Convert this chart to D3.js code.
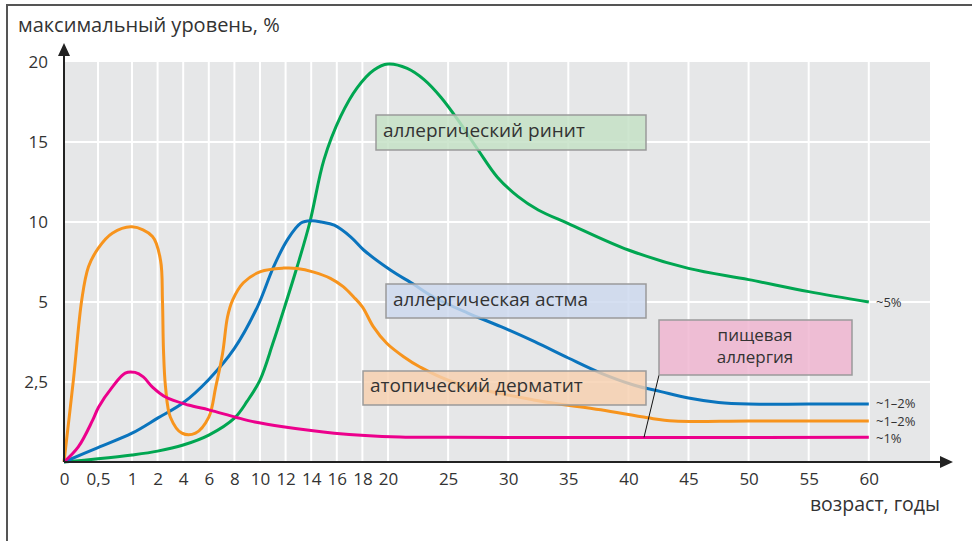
<!DOCTYPE html>
<html>
<head>
<meta charset="utf-8">
<script src="https://cdn.jsdelivr.net/npm/d3@7"></script>
<style>
    body { margin: 0; background: #fff; }
    svg text { font-family: "Open Sans", sans-serif; fill: #333; }
</style>
</head>
<body>
<svg id="chart" width="972" height="541"></svg>
<script>
// возраст (годы) -> максимальный уровень (%)
const xTicks = [0, 0.5, 1, 2, 4, 6, 8, 10, 12, 14, 16, 18, 20, 25, 30, 35, 40, 45, 50, 55, 60];
const yTicks = [2.5, 5, 10, 15, 20];

const rhinitis = [
    [0, 0], [0.5, 0.1], [1, 0.22], [2, 0.34], [4, 0.53], [6, 0.84], [8, 1.37], [9, 1.9],
    [10, 2.56], [11, 3.7], [11.85, 4.75], [12.9, 7.2], [13.9, 10], [15, 13.9], [16.3, 16.6],
    [17.6, 18.4], [18.9, 19.5], [20, 19.87], [21.6, 19.6], [23, 18.9], [24.4, 17.8],
    [25.8, 16.4], [27.5, 14.5], [29.1, 12.8], [30.8, 11.6], [32.5, 10.75], [35, 9.9],
    [40, 8.25], [45, 7.1], [50, 6.4], [55, 5.65], [60, 5.0]
];
const asthma = [
    [0, 0], [0.5, 0.45], [1, 0.9], [2, 1.37], [4, 1.85], [6, 2.58], [8, 3.55], [9.8, 4.85],
    [11.06, 7.2], [12.15, 8.9], [13.2, 9.94], [14, 10.08], [14.8, 10.0], [15.8, 9.8],
    [17.1, 9.06], [18.1, 8.25], [20.2, 7.0], [22.1, 6.12], [23.8, 5.3], [26.6, 4.66],
    [29.4, 4.23], [32.2, 3.76], [35, 3.25], [37.7, 2.78], [40.5, 2.4], [42.7, 2.2],
    [45, 2.0], [47.5, 1.86], [50, 1.81], [55, 1.81], [60, 1.81]
];
const dermatitis = [
    [0, 0], [0.14, 2.6], [0.26, 5.1], [0.36, 7.2], [0.51, 8.4], [0.71, 9.3], [1, 9.7],
    [1.8, 9.1], [2.23, 7.6], [2.38, 5.1], [2.46, 3.5], [2.62, 2.34], [3.0, 1.4], [3.9, 0.9],
    [4.96, 0.9], [6, 1.4], [6.54, 2.34], [7.08, 3.4], [7.46, 4.53], [7.85, 5.1], [8.7, 6.2],
    [10.04, 6.9], [11.84, 7.12], [12.9, 7.1], [14.2, 6.87], [15.5, 6.48], [16.5, 5.96],
    [17.3, 5.33], [18, 4.85], [18.85, 4.23], [19.9, 3.71], [21.3, 3.29], [22.7, 2.96],
    [25.4, 2.5], [32.1, 1.94], [37.7, 1.63], [41.6, 1.38], [43.8, 1.28], [50, 1.28], [60, 1.28]
];
const foodAllergy = [
    [0, 0], [0.21, 0.47], [0.42, 1.3], [0.51, 1.72], [0.71, 2.34], [0.9, 2.78], [1.12, 2.8],
    [1.44, 2.66], [1.8, 2.34], [2.62, 2.03], [4.4, 1.78], [6, 1.63], [8.1, 1.4], [9.6, 1.25],
    [11.8, 1.1], [15.8, 0.9], [21, 0.78], [25, 0.77], [60, 0.77]
];

const seriesNames = ['аллергический ринит', 'аллергическая астма', 'атопический дерматит', ['пищевая', 'аллергия']];
const endLabels = ['~5%', '~1–2%', '~1–2%', '~1%'];
const yTitle = 'максимальный уровень, %';
const xTitle = 'возраст, годы';

const svg = d3.select('#chart');
const plot = { left: 64, top: 62, bottom: 462, right: 930 };

// x-шкала неравномерная: до 1 года шире, 2–20 по 2 года, дальше по 5 лет
const xRange = [plot.left];
for (let i = 1; i < xTicks.length; i++) {
    const t = xTicks[i];
    const w = t <= 1 ? 34 : t <= 20 ? 25.6 : 60.1;
    xRange.push(xRange[i - 1] + w);
}
const x = d3.scaleLinear().domain(xTicks).range(xRange);
const y = d3.scaleLinear().domain([0, 5, 20]).range([plot.bottom, 302, plot.top]);
const fmt = d => String(d).replace('.', ',');

// рамка
svg.append('path')
    .attr('d', 'M7,541 V5 H972')
    .attr('fill', 'none')
    .attr('stroke', '#555')
    .attr('stroke-width', 2);

svg.append('rect')
    .attr('x', plot.left)
    .attr('y', plot.top)
    .attr('width', plot.right - plot.left)
    .attr('height', plot.bottom - plot.top)
    .attr('fill', '#e6e7e8');

svg.append('g')
    .selectAll('line')
    .data(xTicks.slice(1))
    .enter()
    .append('line')
    .attr('x1', d => x(d)).attr('x2', d => x(d))
    .attr('y1', plot.top).attr('y2', plot.bottom)
    .attr('stroke', '#fff').attr('stroke-width', 2);

svg.append('g')
    .selectAll('line')
    .data(yTicks.slice(0, -1))
    .enter()
    .append('line')
    .attr('x1', plot.left).attr('x2', plot.right)
    .attr('y1', d => y(d)).attr('y2', d => y(d))
    .attr('stroke', '#fff').attr('stroke-width', 2);

const line = d3.line()
    .x(d => x(d[0]))
    .y(d => y(d[1]))
    .curve(d3.curveCatmullRom.alpha(0.5));

const series = [
    { data: rhinitis, color: '#00a651', nudge: 0 },
    { data: asthma, color: '#0a74bd', nudge: -1 },
    { data: dermatitis, color: '#f7941d', nudge: 0 },
    { data: foodAllergy, color: '#ec008c', nudge: 1 }
];

svg.append('g')
    .selectAll('path')
    .data(series)
    .enter()
    .append('path')
    .attr('d', d => line(d.data))
    .attr('fill', 'none')
    .attr('stroke', d => d.color)
    .attr('stroke-width', 3);

svg.append('g')
    .selectAll('text')
    .data(series)
    .enter()
    .append('text')
    .attr('x', 876)
    .attr('y', d => y(d.data[d.data.length - 1][1]) + d.nudge)
    .attr('dy', '0.35em')
    .attr('font-size', 13)
    .text((d, i) => endLabels[i]);

// оси
svg.append('g')
    .attr('transform', 'translate(0,' + plot.bottom + ')')
    .call(d3.axisBottom(x).tickValues(xTicks).tickSize(0).tickPadding(11).tickFormat(fmt))
    .call(g => g.select('.domain').remove())
    .selectAll('text')
    .attr('font-size', 17)
    .attr('font-family', null);

svg.append('g')
    .attr('transform', 'translate(' + plot.left + ',0)')
    .call(d3.axisLeft(y).tickValues(yTicks).tickSize(0).tickPadding(16).tickFormat(fmt))
    .call(g => g.select('.domain').remove())
    .selectAll('text')
    .attr('font-size', 17)
    .attr('font-family', null);

svg.append('path')
    .attr('d', `M${plot.left},${plot.bottom} V54 M${plot.left},${plot.bottom} H942`)
    .attr('stroke', '#222').attr('stroke-width', 2).attr('fill', 'none');
svg.append('path')
    .attr('d', `M${plot.left},43 L${plot.left - 6},56 L${plot.left + 6},56 Z M953,${plot.bottom} L940,${plot.bottom - 6} L940,${plot.bottom + 6} Z`)
    .attr('fill', '#222');

svg.append('text').attr('x', 18).attr('y', 32).attr('font-size', 20).text(yTitle);
svg.append('text').attr('x', 940).attr('y', 511).attr('font-size', 19.5)
    .attr('text-anchor', 'end').text(xTitle);

// подписи в рамках
const boxes = [
    { x: 376, y: 115, w: 270, h: 35, fill: '#c3e1c5', tx: 383, ty: 137 },
    { x: 386, y: 284, w: 260, h: 34, fill: '#ccd8ee', tx: 393, ty: 306 },
    { x: 363, y: 371, w: 283, h: 34, fill: '#f6cfae', tx: 370, ty: 392 },
    { x: 659, y: 320, w: 193, h: 55, fill: '#efb3cf', tx: 755, ty: 341 }
];

svg.append('line')
    .attr('x1', 659).attr('y1', 375)
    .attr('x2', 644).attr('y2', y(foodAllergy[foodAllergy.length - 1][1]))
    .attr('stroke', '#111').attr('stroke-width', 1);

const lab = svg.append('g')
    .selectAll('g')
    .data(boxes)
    .enter()
    .append('g');

lab.append('rect')
    .attr('x', d => d.x).attr('y', d => d.y)
    .attr('width', d => d.w).attr('height', d => d.h)
    .attr('fill', d => d.fill)
    .attr('fill-opacity', 0.82)
    .attr('stroke', '#9a9a9a')
    .attr('stroke-width', 1.5);

lab.each(function (d, i) {
    const lines = [].concat(seriesNames[i]);
    const multi = lines.length > 1;
    lines.forEach((s, k) => {
        d3.select(this).append('text')
            .attr('x', d.tx)
            .attr('y', d.ty + k * 22)
            .attr('font-size', multi ? 17 : 19)
            .attr('text-anchor', multi ? 'middle' : 'start')
            .text(s);
    });
});
</script>
</body>
</html>
